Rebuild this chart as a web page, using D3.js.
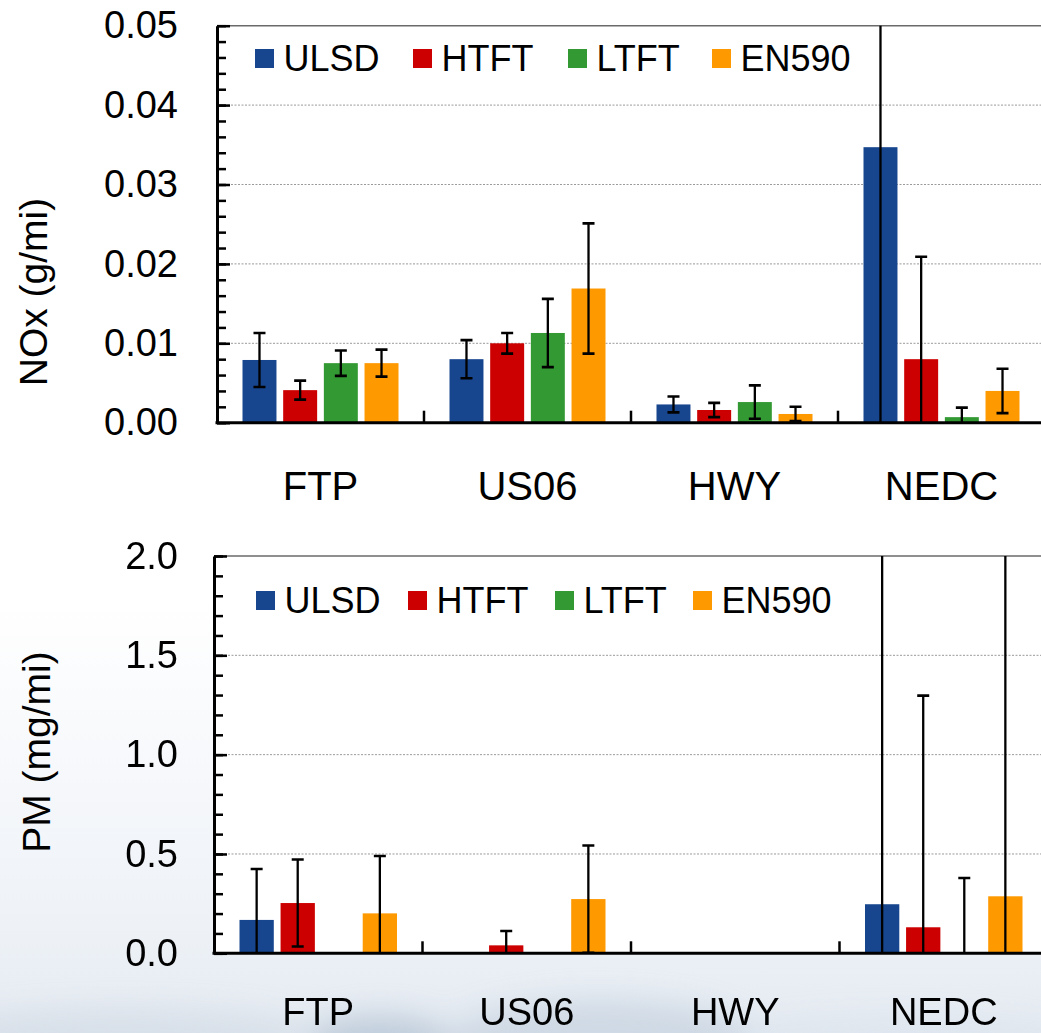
<!DOCTYPE html>
<html>
<head>
<meta charset="utf-8">
<script src="https://cdn.jsdelivr.net/npm/d3@7"></script>
<style>
  html, body { margin: 0; padding: 0; background: #ffffff; }
  svg { display: block; font-family: "Liberation Sans", Arial, sans-serif; }
</style>
</head>
<body>
<svg id="chart" width="1041" height="1033"></svg>
<script>
// ---------------- DATA ----------------
const categories = ["FTP", "US06", "HWY", "NEDC"];
const fuels = ["ULSD", "HTFT", "LTFT", "EN590"];
const fuelColors = ["#17468E", "#CC0000", "#339933", "#FF9900"];

// NOx (g/mi)
const noxULSD = [0.0079, 0.0080, 0.0023, 0.0347];
const noxHTFT = [0.0041, 0.0100, 0.0016, 0.0080];
const noxLTFT = [0.0075, 0.0113, 0.0026, 0.0007];
const noxEN590 = [0.0075, 0.0169, 0.0011, 0.0040];
const noxULSDErr = [0.0034, 0.0024, 0.0010, 0.0450];
const noxHTFTErr = [0.0012, 0.0013, 0.0009, 0.0129];
const noxLTFTErr = [0.0016, 0.0043, 0.0021, 0.0012];
const noxEN590Err = [0.0017, 0.0082, 0.0009, 0.0028];
const noxTicks = [0, 0.01, 0.02, 0.03, 0.04, 0.05];

// PM (mg/mi)
const pmULSD = [0.168, 0, 0, 0.247];
const pmHTFT = [0.253, 0.040, 0, 0.131];
const pmLTFT = [0, 0, 0, 0];
const pmEN590 = [0.201, 0.273, 0, 0.287];
const pmULSDErr = [0.256, 0, 0, 2.5];
const pmHTFTErr = [0.219, 0.072, 0, 1.166];
const pmLTFTErr = [0, 0, 0, 0.379];
const pmEN590Err = [0.289, 0.270, 0, 2.5];
const pmTicks = [0, 0.5, 1.0, 1.5, 2.0];

// ---------------- DRAW ----------------
const svg = d3.select("#chart");
const W = 1041, H = 1033;
const defs = svg.append("defs");

// faint watery background at the bottom
const grad = defs.append("linearGradient").attr("id", "bgGrad")
  .attr("x1", 0).attr("y1", 0).attr("x2", 0).attr("y2", 1);
grad.append("stop").attr("offset", "0%").attr("stop-color", "#ffffff");
grad.append("stop").attr("offset", "40%").attr("stop-color", "#f6f8fb");
grad.append("stop").attr("offset", "75%").attr("stop-color", "#eef2f7");
grad.append("stop").attr("offset", "100%").attr("stop-color", "#e4eaf1");
svg.append("rect").attr("x", 0).attr("y", 0).attr("width", W).attr("height", H).attr("fill", "#ffffff");
svg.append("rect").attr("x", 0).attr("y", 600).attr("width", W).attr("height", H - 600).attr("fill", "url(#bgGrad)");
const blur = defs.append("filter").attr("id", "blur").attr("x", "-50%").attr("y", "-50%").attr("width", "200%").attr("height", "200%");
blur.append("feGaussianBlur").attr("stdDeviation", 14);
const blobs = svg.append("g").attr("filter", "url(#blur)");
blobs.append("ellipse").attr("cx", 120).attr("cy", 1040).attr("rx", 200).attr("ry", 30).attr("fill", "#d3dce6").attr("opacity", 0.7);
blobs.append("ellipse").attr("cx", 380).attr("cy", 1040).attr("rx", 70).attr("ry", 25).attr("fill", "#b8c6d6").attr("opacity", 0.8);
blobs.append("ellipse").attr("cx", 600).attr("cy", 1045).attr("rx", 160).attr("ry", 45).attr("fill", "#c6d2df").attr("opacity", 0.7);
blobs.append("ellipse").attr("cx", 900).attr("cy", 1045).attr("rx", 180).attr("ry", 25).attr("fill", "#dbe3ec").attr("opacity", 0.6);

function drawChart(cfg, idx) {
  const g = svg.append("g");
  const x0 = d3.scaleBand().domain(categories).range([cfg.left, cfg.right]).paddingInner(0).paddingOuter(0);
  const x1 = d3.scaleBand().domain(fuels).range([25.5, x0.bandwidth() - 25.5]).paddingInner(0.165).paddingOuter(0);
  const y = d3.scaleLinear().domain([0, cfg.yMax]).range([cfg.bottom, cfg.top]);

  // white plot area
  g.append("rect").attr("x", cfg.left).attr("y", cfg.top).attr("width", W - cfg.left).attr("height", cfg.bottom - cfg.top)
    .attr("fill", "#ffffff");

  // clip path for error bars
  const clipId = "clip" + idx;
  defs.append("clipPath").attr("id", clipId).append("rect")
    .attr("x", cfg.left).attr("y", cfg.top).attr("width", cfg.right - cfg.left + 10).attr("height", cfg.bottom - cfg.top);

  // gridlines
  g.append("g").selectAll("line").data(cfg.ticks.filter(t => t > 0 && t < cfg.yMax)).join("line")
    .attr("x1", cfg.left).attr("x2", W + 10)
    .attr("y1", d => y(d)).attr("y2", d => y(d))
    .attr("stroke", "#9a9a9a").attr("stroke-width", 1).attr("stroke-dasharray", "2,1.5");
  // top frame line
  g.append("line").attr("x1", cfg.left).attr("x2", W + 10).attr("y1", y(cfg.yMax)).attr("y2", y(cfg.yMax))
    .attr("stroke", "#6a6a6a").attr("stroke-width", 1.5);

  // bars
  const series = fuels.map((f, j) => ({ fuel: f, color: fuelColors[j], vals: cfg.values[j], errs: cfg.errors[j] }));
  const barData = [];
  series.forEach(s => categories.forEach((c, i) => barData.push({ cat: c, fuel: s.fuel, color: s.color, v: s.vals[i], e: s.errs[i] })));
  g.append("g").selectAll("rect").data(barData.filter(d => d.v > 0)).join("rect")
    .attr("x", d => x0(d.cat) + x1(d.fuel))
    .attr("y", d => y(d.v))
    .attr("width", x1.bandwidth())
    .attr("height", d => cfg.bottom - y(d.v))
    .attr("fill", d => d.color);

  // error bars
  const eg = g.append("g").attr("clip-path", `url(#${clipId})`);
  const cx = d => x0(d.cat) + x1(d.fuel) + x1.bandwidth() / 2;
  eg.selectAll("line.stem").data(barData).join("line").attr("class", "stem")
    .attr("x1", cx).attr("x2", cx)
    .attr("y1", d => y(d.v + d.e)).attr("y2", d => y(d.v - d.e))
    .attr("stroke", "#000").attr("stroke-width", 2.3);
  const caps = [];
  barData.forEach(d => { caps.push({ d, val: d.v + d.e }); caps.push({ d, val: d.v - d.e }); });
  eg.selectAll("line.cap").data(caps).join("line").attr("class", "cap")
    .attr("x1", c => cx(c.d) - 6).attr("x2", c => cx(c.d) + 6)
    .attr("y1", c => y(c.val)).attr("y2", c => y(c.val))
    .attr("stroke", "#000").attr("stroke-width", 2.6);

  // minor ticks
  const minor = d3.range(0, cfg.yMax + cfg.minorStep / 2, cfg.minorStep);
  const minorAxis = g.append("g").attr("transform", `translate(${cfg.left},0)`)
    .call(d3.axisLeft(y).tickValues(minor).tickSize(-9).tickSizeOuter(0).tickFormat(""));
  minorAxis.select(".domain").remove();
  minorAxis.selectAll(".tick line").attr("stroke", "#000").attr("stroke-width", 2.5);

  // major ticks + labels
  const yAxis = g.append("g").attr("transform", `translate(${cfg.left},0)`)
    .call(d3.axisLeft(y).tickValues(cfg.ticks).tickSize(-13).tickSizeOuter(0).tickPadding(cfg.left - 178).tickFormat(d3.format(cfg.fmt)));
  yAxis.attr("font-family", "'Liberation Sans', Arial, sans-serif");
  yAxis.select(".domain").attr("stroke", "#000").attr("stroke-width", 3);
  yAxis.selectAll(".tick line").attr("stroke", "#000").attr("stroke-width", 2.5);
  yAxis.selectAll(".tick text").attr("font-size", 38).attr("fill", "#000");

  // baseline
  g.append("line").attr("x1", cfg.left - 1.5).attr("x2", W + 10).attr("y1", cfg.bottom).attr("y2", cfg.bottom)
    .attr("stroke", "#000").attr("stroke-width", 3);

  // category separator ticks
  g.append("g").selectAll("line").data(categories.slice(1)).join("line")
    .attr("x1", d => x0(d)).attr("x2", d => x0(d))
    .attr("y1", cfg.bottom).attr("y2", cfg.bottom - 12)
    .attr("stroke", "#000").attr("stroke-width", 2.5);

  // category labels
  g.append("g").selectAll("text").data(categories).join("text")
    .attr("x", d => x0(d) + x0.bandwidth() / 2)
    .attr("y", cfg.catY)
    .attr("text-anchor", "middle").attr("font-size", cfg.catSize).attr("fill", "#000")
    .text(d => d);

  // axis title
  g.append("text")
    .attr("transform", `translate(${cfg.titleX},${cfg.titleY}) rotate(-90)`)
    .attr("text-anchor", "middle").attr("font-size", 39).attr("fill", "#000")
    .text(cfg.title);

  // legend
  const lg = g.append("g");
  fuels.forEach((f, j) => {
    lg.append("rect").attr("x", cfg.legendX[j]).attr("y", cfg.legendY - 9.5).attr("width", 19).attr("height", 19)
      .attr("fill", fuelColors[j]);
    lg.append("text").attr("x", cfg.legendX[j] + 28.5).attr("y", cfg.legendY + 12.5)
      .attr("font-size", 36).attr("fill", "#000").text(f);
  });
}

drawChart({
  left: 217, right: 1045, top: 25.7, bottom: 422.7, yMax: 0.05, minorStep: 0.002,
  ticks: noxTicks, fmt: ".2f",
  values: [noxULSD, noxHTFT, noxLTFT, noxEN590],
  errors: [noxULSDErr, noxHTFTErr, noxLTFTErr, noxEN590Err],
  catY: 500, catSize: 40, title: "NOx (g/mi)", titleX: 47, titleY: 292,
  legendX: [255, 413, 568, 712], legendY: 58.5
}, 0);

drawChart({
  left: 214, right: 1048, top: 556, bottom: 953.3, yMax: 2.0, minorStep: 0.1,
  ticks: pmTicks, fmt: ".1f",
  values: [pmULSD, pmHTFT, pmLTFT, pmEN590],
  errors: [pmULSDErr, pmHTFTErr, pmLTFTErr, pmEN590Err],
  catY: 1024.5, catSize: 38, title: "PM (mg/mi)", titleX: 50, titleY: 752,
  legendX: [256, 408, 555, 693], legendY: 600.5
}, 1);
</script>
</body>
</html>
